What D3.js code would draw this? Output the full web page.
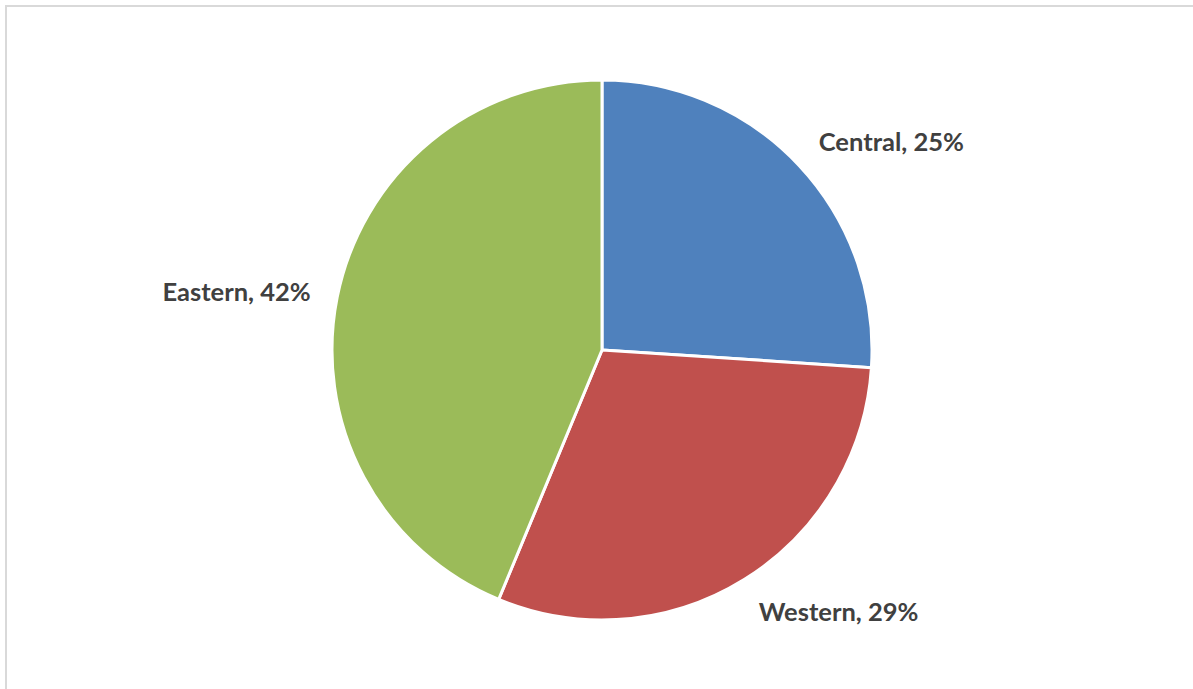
<!DOCTYPE html>
<html lang="en">
  <head>
    <meta charset="utf-8">
    <title>Regions pie</title>
    <script src="https://d3js.org/d3.v7.min.js"></script>
    <style>
      body { margin: 0; background: #fff; }
      svg { display: block; }
    </style>
  </head>
  <body>
    <script>
      var categories = ["Central", "Western", "Eastern"];
      var values = [25, 29, 42];
      var colors = ["#4f81bd", "#c0504d", "#9bbb59"];

      var width = 1193, height = 689;
      var cx = 602, cy = 350, radius = 270;

      var svg = d3.select("body").append("svg")
                  .attr("width", width)
                  .attr("height", height);

      // chart frame (runs off the right / bottom edge)
      svg.append("rect")
         .attr("x", 6).attr("y", 6)
         .attr("width", width + 20).attr("height", height + 20)
         .attr("fill", "none")
         .attr("stroke", "#d9d9d9")
         .attr("stroke-width", 2);

      var data = categories.map(function(c, i) { return {name: c, value: values[i], color: colors[i]}; });

      var pie = d3.pie().sort(null).value(function(d) { return d.value; });
      var arc = d3.arc().innerRadius(0).outerRadius(radius);

      var g = svg.append("g").attr("transform", "translate(" + cx + "," + cy + ")");

      g.selectAll("path")
       .data(pie(data))
       .enter().append("path")
       .attr("d", arc)
       .attr("fill", function(d) { return d.data.color; })
       .attr("stroke", "#fff")
       .attr("stroke-width", 3)
       .attr("stroke-linejoin", "round");

      var labelR = radius + 27;
      g.selectAll("text")
       .data(pie(data))
       .enter().append("text")
       .each(function(d) {
         var a = (d.startAngle + d.endAngle) / 2;
         var s = Math.sin(a), c = Math.cos(a);
         d3.select(this)
           .attr("x", labelR * s)
           .attr("y", -labelR * c)
           .attr("text-anchor", s > 0.3 ? "start" : (s < -0.3 ? "end" : "middle"))
           .attr("dy", c > 0.3 ? "0.15em" : (c < -0.3 ? "0.74em" : "0.36em"));
       })
       .style("font-family", "Lato, 'Open Sans', sans-serif")
       .style("font-weight", 700)
       .style("font-size", "25.5px")
       .style("fill", "#404040")
       .text(function(d) { return d.data.name + ", " + d.data.value + "%"; });
    </script>
  </body>
</html>
